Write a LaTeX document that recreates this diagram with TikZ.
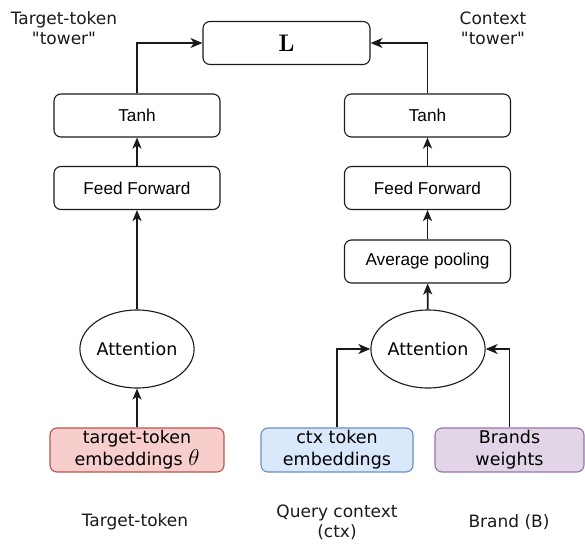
\RequirePackage{fix-cm}
\documentclass[tikz,border=0pt]{standalone}
\usepackage[no-math]{fontspec}
\setmainfont{DejaVu Sans}
\newfontfamily\lib{Liberation Sans}
\usetikzlibrary{shapes.geometric,arrows.meta}
\definecolor{redf}{HTML}{F8CECC}\definecolor{redd}{HTML}{B85450}
\definecolor{bluef}{HTML}{DAE8FC}\definecolor{blued}{HTML}{6C8EBF}
\definecolor{purf}{HTML}{E1D5E7}\definecolor{purd}{HTML}{9673A6}
\definecolor{ink}{HTML}{1A1A1A}
\begin{document}
\begin{tikzpicture}[x=1pt,y=-1pt,
  box/.style={draw=ink, rounded corners=7pt, minimum width=166pt, minimum height=43pt, line width=1.1pt, inner sep=0pt, font=\lib\fontsize{17.2}{20}\selectfont},
  embbox/.style={rounded corners=7pt, minimum height=44pt, line width=1.1pt, inner sep=0pt, align=center, font=\fontsize{17.5}{22}\selectfont},
  attn/.style={draw=ink, ellipse, minimum width=102pt, minimum height=78pt, line width=1.1pt, inner sep=0pt, font=\fontsize{17.5}{21}\selectfont},
  lbl/.style={align=center, inner sep=0pt, font=\fontsize{17}{20}\selectfont, text=ink},
  conn/.style={draw=ink, line width=1.2pt, -{Stealth[length=12pt,width=10pt,inset=3.5pt]}},
  varrow/.style={draw=ink, line width=1.9pt, -{Stealth[length=11pt,width=9pt,inset=3pt]}}
]
\useasboundingbox (0,0) rectangle (585,545);

\node[box, minimum width=167pt] (L) at (286.5,43) {\fontsize{24}{28}\selectfont$\mathbf{L}$};

\node[box] (tl) at (137,115.5) {Tanh};
\node[box] (fl) at (137,188) {Feed Forward};
\node[attn] (al) at (137,349) {Attention};
\node[embbox, draw=redd, fill=redf, minimum width=174pt] (el) at (137,450) {target-token\\embeddings {\fontsize{23}{22}\selectfont$\theta$}};

\node[box] (tr) at (427.5,115.5) {Tanh};
\node[box] (fr) at (427.5,188) {Feed Forward};
\node[box] (pr) at (427.5,261.5) {Average pooling};
\node[attn] (ar) at (428,349) {Attention};
\node[embbox, draw=blued, fill=bluef, minimum width=152pt] (ec) at (337,450) {ctx token\\embeddings};
\node[embbox, draw=purd, fill=purf, minimum width=149pt] (eb) at (509.5,450) {Brands\\weights};

\node[lbl] (t1) at (64,28) {Target-token\\\textquotedbl tower\textquotedbl};
\node[lbl] (t2) at (493,28) {Context\\\textquotedbl tower\textquotedbl};
\node[lbl] (b1) at (135,522) {Target-token};
\node[lbl] (b2) at (337,522) {Query context\\(ctx)};
\node[lbl] (b3) at (509,522) {Brand (B)};

\draw[conn] (tl.north) |- (L.west);
\draw[conn] (tr.north) |- (L.east);
\draw[varrow] (fl) -- (tl);
\draw[varrow] (al) -- (fl);
\draw[varrow] (el) -- (al);
\draw[varrow] (fr) -- (tr);
\draw[varrow] (pr) -- (fr);
\draw[varrow] (ar) -- (pr);
\draw[conn] (ec.north) |- (ar.west);
\draw[conn] (eb.north) |- (ar.east);
\end{tikzpicture}
\end{document}
